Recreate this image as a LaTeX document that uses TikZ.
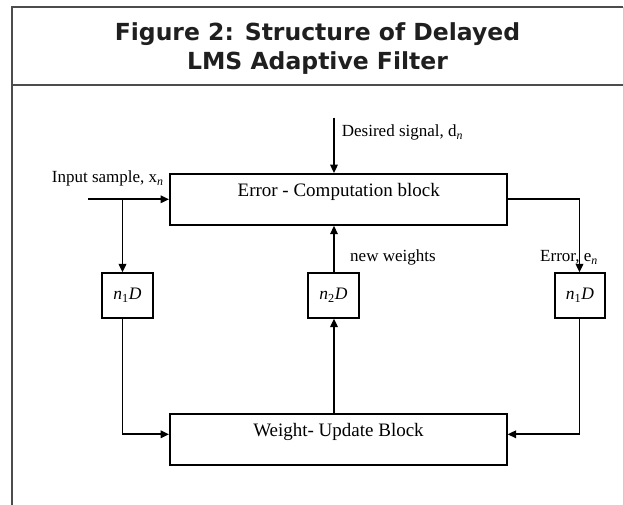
\documentclass[tikz,border=0pt]{standalone}
\usepackage{fontspec}
\setmainfont{Liberation Serif}
\newfontfamily\titlefont{DejaVu Sans}
\usetikzlibrary{arrows.meta}
\begin{document}
\begin{tikzpicture}[x=1pt,y=-1pt,
  blk/.style={draw, line width=1.8pt, minimum width=336.7pt, minimum height=50.8pt, inner sep=0pt},
  dbox/.style={draw, line width=1.8pt, minimum width=50.4pt, minimum height=44.4pt, inner sep=0pt, font=\fontsize{17.5}{20}\selectfont},
  wire/.style={line width=1.8pt},
  arr/.style={wire, -{Triangle[length=8.5pt,width=7.5pt]}},
  lbl/.style={font=\fontsize{17}{20}\selectfont, inner sep=0pt},
  btxt/.style={font=\fontsize{19}{22}\selectfont, inner sep=0pt},
  ttl/.style={font=\titlefont\bfseries\fontsize{23.5}{28}\selectfont, text=black!88, inner sep=0pt},
  frameline/.style={line width=1.6pt, draw=black!70}
]
\useasboundingbox (0,0) rectangle (624,505);
\fill[white] (0,0) rectangle (624,505);
% frame
\draw[frameline] (12,505) -- (12,7) -- (623,7);
\draw[frameline] (12,85) -- (623,85);
\draw[line width=1pt, draw=black!20] (623.3,7) -- (623.3,505);
% title
\node[ttl, anchor=base] (t1) at (317.5,41) {Figure 2: Structure of Delayed};
\node[ttl, anchor=base] (t2) at (317.5,70) {LMS Adaptive Filter};
% blocks
\node[blk] (ecb) at (338.3,199.4) {};
\node[btxt, anchor=base] (ecbt) at (338.7,196.7) {Error - Computation block};
\node[blk] (wub) at (338.3,439.7) {};
\node[btxt, anchor=base] (wubt) at (338.5,436.7) {Weight- Update Block};
\node[dbox] (d1) at (127.5,295.5) {\textit{n}\textsubscript{1}\textit{D}};
\node[dbox] (d2) at (333.5,295.5) {\textit{n}\textsubscript{2}\textit{D}};
\node[dbox] (d3) at (580,295.5) {\textit{n}\textsubscript{1}\textit{D}};
% coordinates
\coordinate (inS) at (88,199.3);
\coordinate (br) at (122.5,199.3);
\coordinate (lbot) at (122.5,434.3);
\coordinate (dsrc) at (334,117.7);
\coordinate (rtop) at (579.5,199.3);
\coordinate (rbot) at (579.5,434.3);
% connectors
\draw[arr] (inS) -- (inS -| ecb.west);
\draw[arr] (br) -- (br |- d1.north);
\draw[arr] (br |- d1.south) -- (lbot) -- (lbot -| wub.west);
\draw[arr] (dsrc) -- (dsrc |- ecb.north);
\draw[arr] (dsrc |- d2.north) -- (dsrc |- ecb.south);
\draw[arr] (dsrc |- wub.north) -- (dsrc |- d2.south);
\draw[arr] (rtop -| ecb.east) -- (rtop) -- (rtop |- d3.north);
\draw[arr] (rbot |- d3.south) -- (rbot) -- (rbot -| wub.east);
% labels
\node[lbl, anchor=base west] (linp) at (51.7,183) {Input sample, x\textsubscript{\textit{n}}};
\node[lbl, anchor=base west] (ldes) at (341.7,136.7) {Desired signal, d\textsubscript{\textit{n}}};
\node[lbl, anchor=base west] (lnw) at (350,261.7) {new weights};
\node[lbl, anchor=base west] (lerr) at (540,261.7) {Error, e\textsubscript{\textit{n}}};
\end{tikzpicture}
\end{document}
